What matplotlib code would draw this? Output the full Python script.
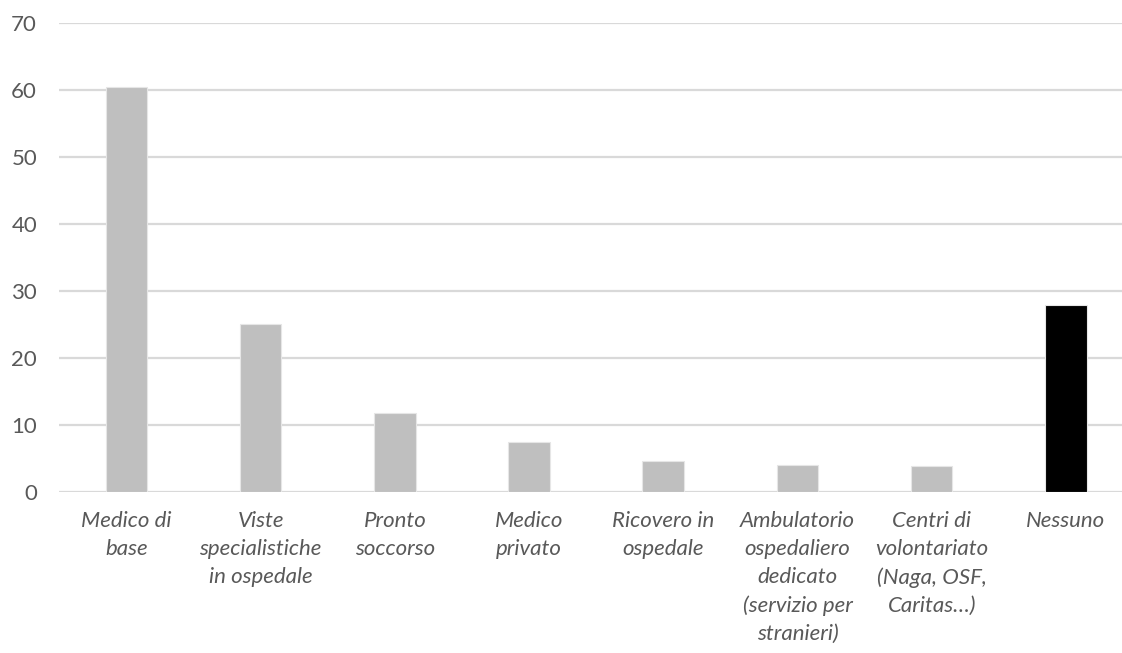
import matplotlib.pyplot as plt
import numpy as np

plt.rcParams['font.family'] = ['Lato', 'DejaVu Sans']

categorie = ["Medico di\nbase", "Viste\nspecialistiche\nin ospedale", "Pronto\nsoccorso",
             "Medico\nprivato", "Ricovero in\nospedale",
             "Ambulatorio\nospedaliero\ndedicato\n(servizio per\nstranieri)",
             "Centri di\nvolontariato\n(Naga, OSF,\nCaritas…)", "Nessuno"]
valori = [60.4, 25.1, 11.8, 7.4, 4.6, 4.0, 3.8, 27.9]
colori = ["#bfbfbf"] * 7 + ["#000000"]

fig = plt.figure(figsize=(11.22, 6.53), dpi=100)
ax = fig.add_axes([59.3 / 1122, 161.3 / 653, 1073.7 / 1122, 468.7 / 653])

x = np.arange(len(valori))
ax.bar(x, valori, width=0.31, color=colori, edgecolor="#e6e6e6", linewidth=0.8, zorder=3)

ax.set_xlim(-0.5, len(valori) - 0.5)
ax.set_ylim(0, 70)
ax.set_yticks(range(0, 71, 10))
ax.grid(axis="y", color="#d9d9d9", linewidth=1.6, zorder=0)
ax.set_axisbelow(True)
for s in ax.spines.values():
    s.set_visible(False)

ax.set_xticks(x)
ax.set_xticklabels(categorie, style="italic", fontsize=16, color="#595959", linespacing=1.5)
ax.tick_params(axis="x", length=0, pad=14)
ax.tick_params(axis="y", length=0, pad=16, labelsize=16, labelcolor="#595959")

fig.savefig("out.png", dpi=100)
